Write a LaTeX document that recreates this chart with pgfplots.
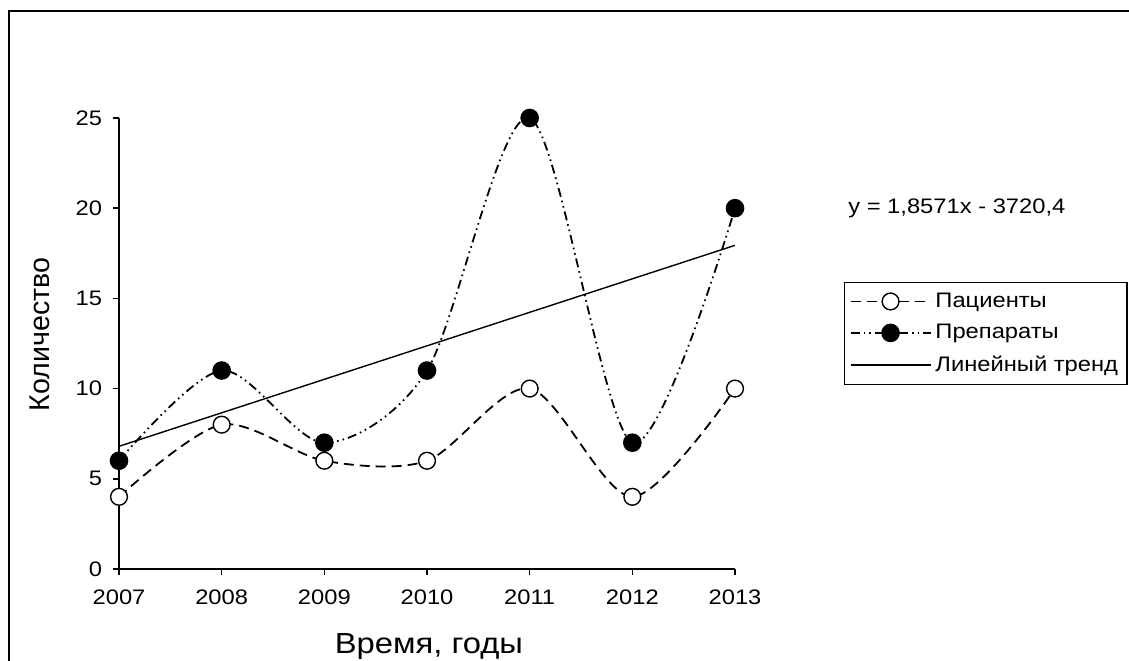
\documentclass[border=0pt]{standalone}
\usepackage{fontspec}
\setmainfont[FakeStretch=1.13]{Liberation Sans}
\newfontfamily\plainfont{Liberation Sans}
\usepackage{pgfplots}
\pgfplotsset{compat=1.18}

\begin{document}
\begin{tikzpicture}
\begin{axis}[
  scale only axis, width=308pt, height=225.5pt,
  xmin=2007, xmax=2013, ymin=0, ymax=25,
  clip=false,
  axis x line*=bottom, axis y line*=left,
  axis line style={-, line width=0.8pt},
  tick align=outside, major tick length=3pt,
  tick style={black, line width=0.8pt},
  xtick={2007,2008,2009,2010,2011,2012,2013}, ytick={0,5,10,15,20,25},
  /pgf/number format/assume math mode=true,
  x tick label style={/pgf/number format/1000 sep={}, font=\fontsize{10.5}{12}\selectfont, yshift=-4pt},
  y tick label style={font=\fontsize{10.5}{12}\selectfont, xshift=-2pt},
  xlabel={Время, годы},
  xlabel style={at={(rel axis cs:0.503,-0.173)}, anchor=center, font=\fontsize{14.5}{16}\selectfont},
  ylabel={\plainfont Количество},
  ylabel style={at={(rel axis cs:-0.128,0.52)}, anchor=center, font=\fontsize{14.3}{16}\selectfont},
  legend style={at={(1.177,0.636)}, anchor=north west, draw=black, line width=0.6pt,
    font=\fontsize{10.5}{12}\selectfont, row sep=3pt, inner xsep=2.5pt, inner ysep=3pt,
    cells={anchor=west}},
  legend image code/.code={\draw[mark repeat=2,mark phase=2,#1] plot coordinates {(0pt,0pt) (20pt,0pt) (40pt,0pt)};},
]
\addplot[black, line width=0.9pt, smooth, dash pattern=on 5pt off 3pt,
  mark=*, mark size=4.2pt, mark options={solid, fill=white, line width=0.7pt}]
  coordinates {(2007,4) (2008,8) (2009,6) (2010,6) (2011,10) (2012,4) (2013,10)};
\addlegendentry{Пациенты}
\addplot[black, line width=0.9pt, smooth, dash pattern=on 4.5pt off 2pt on 0.8pt off 2pt on 0.8pt off 2pt,
  mark=*, mark size=4.2pt, mark options={solid, fill=black}]
  coordinates {(2007,6) (2008,11) (2009,7) (2010,11) (2011,25) (2012,7) (2013,20)};
\addlegendentry{Препараты}
\addplot[black, line width=0.7pt] coordinates {(2007,6.8) (2013,17.94)};
\addlegendentry{Линейный тренд}
\node[anchor=west, font=\fontsize{10.5}{12}\selectfont, inner sep=0pt] at (axis cs:2014.1,20) {y = 1,8571x - 3720,4};
\coordinate (BL) at (rel axis cs:-0.1932,-0.204);
\coordinate (TR) at (rel axis cs:1.6396,1.2616);
\coordinate (FB) at (rel axis cs:-0.1786,-0.25);
\coordinate (FT) at (rel axis cs:-0.1786,1.2373);
\coordinate (FR) at (rel axis cs:1.70,1.2373);
\end{axis}
\draw[line width=1.1pt] (FB) -- (FT) -- (FR);
\pgfresetboundingbox
\useasboundingbox (BL) rectangle (TR);
\end{tikzpicture}
\end{document}
